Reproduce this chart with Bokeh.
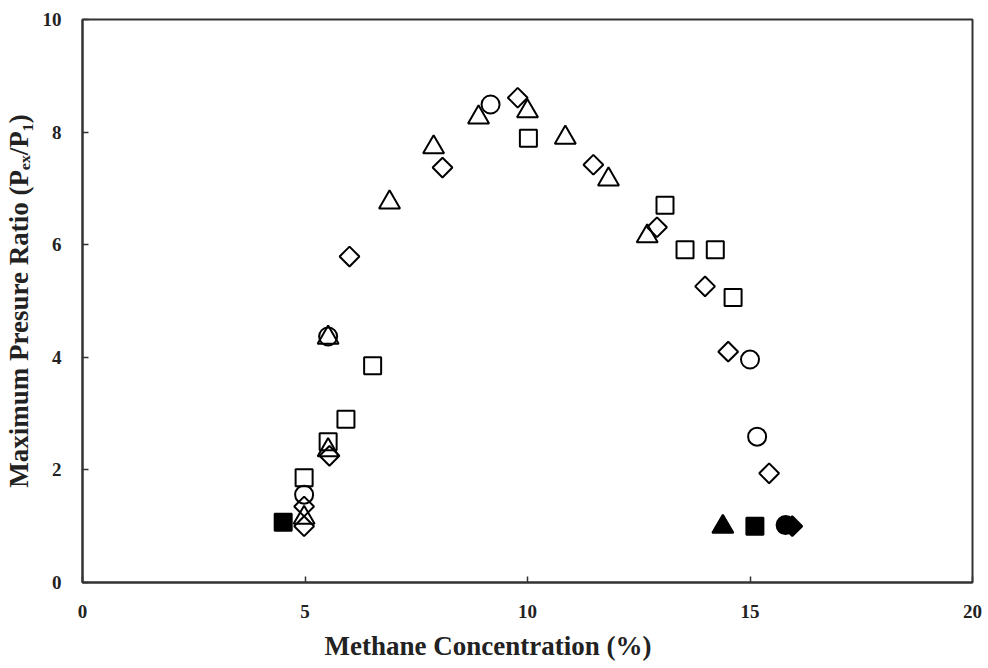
import math
from bokeh.plotting import figure
from bokeh.models import Range1d, FixedTicker, Title
from bokeh.embed import file_html
from bokeh.resources import INLINE

# open symbols
sq_x = [4.98, 5.52, 5.92, 6.52, 10.02, 13.09, 13.54, 14.22, 14.62]
sq_y = [1.86, 2.50, 2.90, 3.85, 7.89, 6.70, 5.91, 5.91, 5.06]
tri_x = [4.98, 5.52, 5.52, 6.90, 7.89, 8.90, 10.00, 10.85, 11.82, 12.69]
tri_y = [1.15, 2.35, 4.35, 6.75, 7.73, 8.26, 8.37, 7.90, 7.16, 6.15]
cir_x = [4.98, 5.52, 9.17, 15.00, 15.16]
cir_y = [1.56, 4.37, 8.49, 3.96, 2.59]
dia_x = [4.98, 4.98, 5.55, 6.00, 8.09, 9.78, 11.48, 12.91, 13.99, 14.51, 15.43]
dia_y = [1.00, 1.35, 2.25, 5.79, 7.37, 8.61, 7.42, 6.31, 5.26, 4.10, 1.94]
# filled symbols (flammability limits)
fsq_x = [4.51, 15.11]
fsq_y = [1.07, 1.00]
ftri_x = [14.39]
ftri_y = [0.99]
fcir_x = [15.80]
fcir_y = [1.02]
fdia_x = [15.95]
fdia_y = [1.00]

x_ticks = [0, 5, 10, 15, 20]
y_ticks = [0, 2, 4, 6, 8, 10]
x_title = "Methane Concentration (%)"
y_title = "Maximum Presure Ratio (P\u2091\u2093/P\u2081)"

W, H = 984, 668
p = figure(width=W, height=H, output_backend="svg", toolbar_location=None,
           x_range=Range1d(0, 20), y_range=Range1d(0, 10),
           min_border_left=80, min_border_right=12, min_border_top=19, min_border_bottom=86)
p.grid.visible = False
p.outline_line_color = "#333333"
p.outline_line_width = 2
p.background_fill_color = "white"
p.border_fill_color = "white"

font = "Liberation Serif"
for ax in (p.xaxis[0], p.yaxis[0]):
    ax.axis_line_color = "#333333"
    ax.axis_line_width = 2
    ax.major_tick_in = 6
    ax.major_tick_out = 0
    ax.major_tick_line_color = "#333333"
    ax.major_tick_line_width = 1.5
    ax.minor_tick_line_color = None
    ax.major_label_text_font = font
    ax.major_label_text_font_style = "bold"
    ax.major_label_text_font_size = "19px"
    ax.major_label_text_color = "#222222"
    ax.axis_label_text_font = font
    ax.axis_label_text_font_style = "bold"
    ax.axis_label_text_font_size = "27px"
    ax.axis_label_text_color = "#222222"

p.xaxis[0].ticker = FixedTicker(ticks=x_ticks)
p.yaxis[0].ticker = FixedTicker(ticks=y_ticks)
p.xaxis[0].major_label_standoff = 22
p.yaxis[0].major_label_standoff = 21
p.yaxis[0].axis_label = y_title
p.yaxis[0].axis_label_standoff = 6

p.add_layout(Title(text=x_title, align="left", offset=242, standoff=16,
                   text_font=font, text_font_style="bold", text_font_size="27px",
                   text_color="#222222"), "below")

lw = 2
p.scatter(sq_x, sq_y, marker="square", size=17, fill_color=None, line_color="black", line_width=lw)
p.scatter(tri_x, tri_y, marker="triangle", size=21, fill_color=None, line_color="black", line_width=lw)
p.scatter(cir_x, cir_y, marker="circle", size=18, fill_color=None, line_color="black", line_width=lw)
p.scatter(dia_x, dia_y, marker="square", angle=math.pi / 4, size=14, fill_color=None, line_color="black", line_width=lw)

p.scatter(fsq_x, fsq_y, marker="square", size=17, fill_color="black", line_color="black", line_width=lw)
p.scatter(ftri_x, ftri_y, marker="triangle", size=21, fill_color="black", line_color="black", line_width=lw)
p.scatter(fcir_x, fcir_y, marker="circle", size=18, fill_color="black", line_color="black", line_width=lw)
p.scatter(fdia_x, fdia_y, marker="square", angle=math.pi / 4, size=14, fill_color="black", line_color="black", line_width=lw)

open("out.html", "w").write(file_html(p, INLINE))
